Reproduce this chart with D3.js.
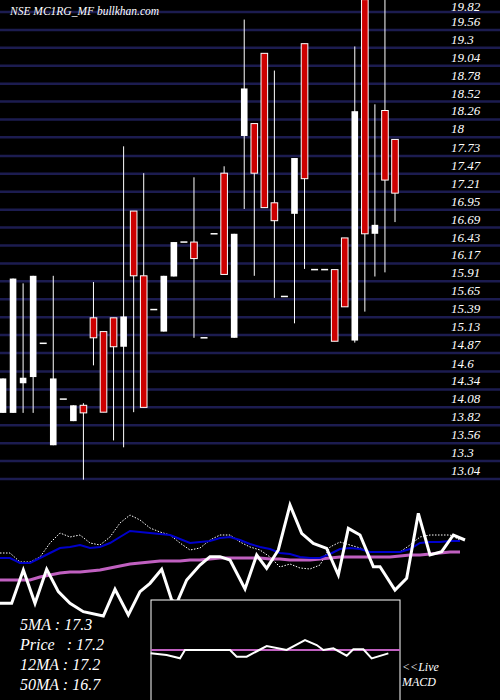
<!DOCTYPE html><html><head><meta charset="utf-8">
<script src="https://cdn.jsdelivr.net/npm/d3@7"></script>
<style>body{margin:0;background:#000}svg{display:block}</style></head><body>
<svg id="c" width="500" height="700"></svg>
<script>
const tickLabels=[13.04,13.3,13.56,13.82,14.08,14.34,14.6,14.87,15.13,15.39,15.65,15.91,16.17,16.43,16.69,16.95,17.21,17.47,17.73,18,18.26,18.52,18.78,19.04,19.3,19.56,19.82];
const opens =[14.0,14.0,14.43,14.52,15.01,13.53,14.20,13.88,14.11,15.38,15.18,15.38,14.96,16.93,15.99,15.50,15.18,15.98,16.48,16.48,15.09,16.60,17.48,15.09,18.02,18.20,19.22,17.05,15.69,16.89,19.36,16.08,16.08,16.08,16.54,15.05,20.0,16.60,18.39,17.97];
const closes=[14.5,15.95,14.51,15.99,15.01,14.50,14.20,14.11,14.00,15.09,14.01,14.96,15.40,15.99,14.08,15.50,15.99,16.48,16.48,16.24,15.09,16.60,16.01,16.60,18.71,17.48,16.98,16.79,15.69,17.70,17.40,16.08,16.08,15.04,15.54,18.38,16.60,16.73,17.38,17.19];
const highs =[14.5,15.95,15.88,15.99,15.01,15.99,14.20,14.11,14.14,15.90,15.18,15.38,17.87,16.93,17.48,15.50,15.99,16.48,16.48,17.42,15.09,16.60,17.58,16.60,19.71,18.20,19.22,18.97,15.69,17.70,19.36,16.08,16.08,16.08,16.54,19.32,20.0,18.48,20.0,17.97];
const lows  =[14.0,14.0,14.0,14.0,15.01,13.53,14.20,13.88,13.03,14.69,14.01,13.60,13.50,14.01,14.08,15.50,15.18,15.98,16.48,15.09,15.09,16.60,16.01,15.09,16.96,15.99,16.98,15.67,15.69,15.30,16.09,16.08,16.08,15.04,15.54,15.02,15.47,15.98,16.04,16.77];
const ma12=[68,68,73,73,68,63,58,57,55,58,57,53,47,41,42,43,44,45,49,53,52,51,48,47,50,54,57,59,63,64,67,68,68,64,59,58,59,62,62,62,62,59,53,52,52,51,51];
const ma5=[63,63,72,72,67,53,43,47,45,53,55,47,33,25,30,38,42,45,53,60,58,50,45,45,52,57,60,67,77,74,78,79,75,57,52,55,58,62,62,62,62,55,47,45,45,45,50];
const ma50=[90,90,90,90,87,85,83,82,82,81,80,78,76,74,73,72,71,71,71,70,70,69,68,68,68,68,68,69,69,70,70,70,69,68,67,67,67,67,67,67,66,65,65,64,63,62,62];
const oscX=[0,35,70,105,140,175,210,250,310,345,385,420,450,485,515,530,560,600,630,660,690,735,770,800,835,870,905,940,980,1015,1045,1080,1120,1140,1185,1220,1255,1290,1325,1360,1395];
const oscV=[340,340,240,340,238,305,340,365,378,298,375,305,280,238,330,340,270,225,200,200,210,297,195,235,180,45,130,160,175,255,115,135,230,230,300,265,70,195,185,135,150];
const macdX=[452,500,540,555,690,710,740,800,860,915,950,970,1000,1040,1060,1090,1115,1165];
const macdV=[490,495,505,480,480,500,500,468,480,450,465,480,475,497,478,478,505,490];
const infoLabels=["5MA : 17.3","Price   : 17.2","12MA : 17.2","50MA : 16.7"];

const svg=d3.select("#c");
svg.append("rect").attr("width",500).attr("height",700).attr("fill","#000");
const y=d3.scaleLinear().domain([13.04,19.82]).range([479,12]);
const x=d3.scaleLinear().domain([0,opens.length-1]).range([3,395]);
svg.selectAll("line.g").data(tickLabels).enter().append("line")
 .attr("x1",0).attr("x2",500).attr("y1",d=>y(d)).attr("y2",d=>y(d))
 .attr("stroke","#1c1c50").attr("stroke-width",2.5);
svg.selectAll("text.t").data(tickLabels).enter().append("text")
 .attr("x",451).attr("y",d=>Math.max(y(d)-4,11)).text(d=>d)
 .attr("fill","#fff").attr("font-family","Liberation Serif").attr("font-style","italic").attr("font-size",13);
svg.append("text").attr("x",10).attr("y",15).text("NSE MC1RG_MF bullkhan.com")
 .attr("fill","#fff").attr("font-family","Liberation Serif").attr("font-style","italic").attr("font-size",11.5);
const cg=svg.append("g");
opens.forEach((o,i)=>{
 const c=closes[i],up=c>=o,cx=x(i);
 cg.append("line").attr("x1",cx).attr("x2",cx).attr("y1",y(highs[i])).attr("y2",y(lows[i])).attr("stroke","#fff").attr("stroke-width",1);
 const t=y(Math.max(o,c)),b=y(Math.min(o,c));
 if(Math.abs(b-t)<1.5){cg.append("line").attr("x1",cx-3.5).attr("x2",cx+3.5).attr("y1",t).attr("y2",t).attr("stroke","#fff").attr("stroke-width",1.5);}
 else cg.append("rect").attr("x",cx-3.3).attr("width",6.6).attr("y",t).attr("height",b-t)
  .attr("fill",up?"#fff":"#cc0000").attr("stroke","#fff").attr("stroke-width",up?0:1);
});
const ly=d3.scaleLinear().domain([0,210]).range([490,700]);
const lx=d3.scaleLinear().domain([0,46]).range([0,460]);
const ln=d3.line().x((d,i)=>lx(i)).y(d=>ly(d));
svg.append("path").attr("d",ln(ma5)).attr("fill","none").attr("stroke","#fff").attr("stroke-width",1).attr("stroke-dasharray","1.5,1.5");
svg.append("path").attr("d",ln(ma50)).attr("fill","none").attr("stroke","#c060c0").attr("stroke-width",3);
svg.append("path").attr("d",ln(ma12)).attr("fill","none").attr("stroke","#0000cc").attr("stroke-width",2);
const px=d3.scaleLinear().domain([0,1500]).range([0,500]);
const py=d3.scaleLinear().domain([0,630]).range([490,700]);
svg.append("path").attr("d",d3.line().x((d,i)=>px(oscX[i])).y(d=>py(d))(oscV)).attr("fill","none").attr("stroke","#fff").attr("stroke-width",3);
svg.append("rect").attr("x",151).attr("y",600).attr("width",249).attr("height",102).attr("fill","#000").attr("stroke","#fff").attr("stroke-width",1);
svg.append("line").attr("x1",151).attr("x2",400).attr("y1",py(480)).attr("y2",py(480)).attr("stroke","#c060c0").attr("stroke-width",2);
svg.append("path").attr("d",d3.line().x((d,i)=>px(macdX[i])).y(d=>py(d))(macdV)).attr("fill","none").attr("stroke","#fff").attr("stroke-width",2);
svg.selectAll("text.i").data(infoLabels).enter().append("text").attr("x",20).attr("y",(d,i)=>630+i*20).text(d=>d)
 .attr("fill","#fff").attr("font-family","Liberation Serif").attr("font-style","italic").attr("font-size",16).style("white-space","pre");
svg.append("text").attr("x",402).attr("y",671).text("<<Live").attr("fill","#fff").attr("font-family","Liberation Serif").attr("font-style","italic").attr("font-size",12);
svg.append("text").attr("x",402).attr("y",686).text("MACD").attr("fill","#fff").attr("font-family","Liberation Serif").attr("font-style","italic").attr("font-size",12);
</script></body></html>
